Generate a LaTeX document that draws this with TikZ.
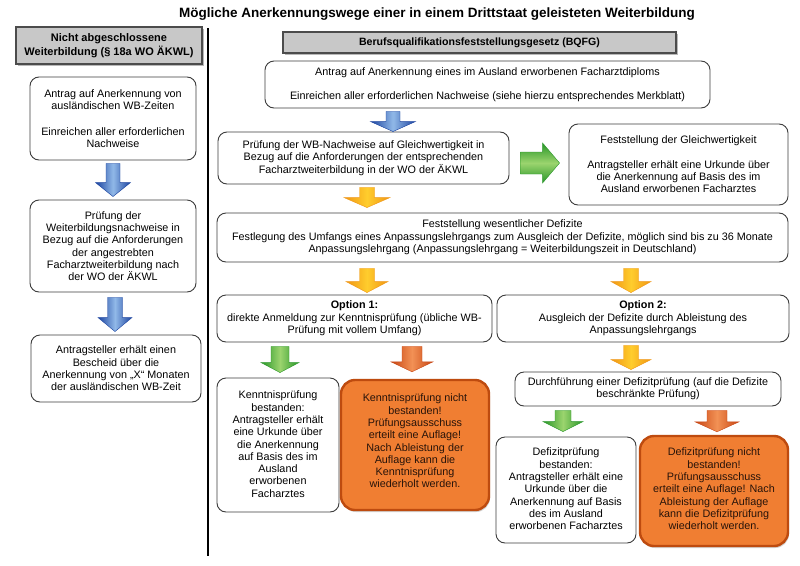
\documentclass[tikz,border=0pt]{standalone}
\usepackage{fontspec}
\setmainfont{Liberation Sans}
\usetikzlibrary{calc,shadows}
\newcommand\bodyfont{\fontsize{10.8}{12.3}\selectfont}
\newcommand\hdfont{\fontsize{11}{13.5}\selectfont\bfseries}
\definecolor{bdark}{RGB}{28,68,160}
\definecolor{blight}{RGB}{145,185,232}
\definecolor{gdark}{RGB}{40,150,40}
\definecolor{glight}{RGB}{155,212,110}
\definecolor{ydark}{RGB}{240,150,20}
\definecolor{ylight}{RGB}{255,205,45}
\definecolor{rdark}{RGB}{200,70,20}
\definecolor{rlight}{RGB}{242,145,85}
\definecolor{ofill}{RGB}{240,126,50}
\definecolor{oline}{RGB}{190,75,15}
\definecolor{otext}{RGB}{40,20,10}
\definecolor{boxline}{RGB}{60,60,60}
\definecolor{hfill}{RGB}{200,200,200}
% style, from, to, x, shaft half, head half, head length, gap top, gap bottom
\newcommand\blockdown[9]{%
  \path[#1] let \p1=(#2.south), \p2=(#3.north) in
    (#4pt-#5pt,\y1-#8pt) -- (#4pt+#5pt,\y1-#8pt) -- (#4pt+#5pt,\y2+#9pt+#7pt)
    -- (#4pt+#6pt,\y2+#9pt+#7pt) -- (#4pt,\y2+#9pt) -- (#4pt-#6pt,\y2+#9pt+#7pt)
    -- (#4pt-#5pt,\y2+#9pt+#7pt) -- cycle;}
% style, from, to, y, shaft half, head half, head length, gap left, gap right
\newcommand\blockright[9]{%
  \path[#1] let \p1=(#2.east), \p2=(#3.west) in
    (\x1+#8pt,-#4pt+#5pt) -- (\x2-#9pt-#7pt,-#4pt+#5pt) -- (\x2-#9pt-#7pt,-#4pt+#6pt)
    -- (\x2-#9pt,-#4pt) -- (\x2-#9pt-#7pt,-#4pt-#6pt) -- (\x2-#9pt-#7pt,-#4pt-#5pt)
    -- (\x1+#8pt,-#4pt-#5pt) -- cycle;}
\begin{document}
\begin{tikzpicture}[x=1pt,y=-1pt,
  wbox/.style={draw=boxline, line width=0.9pt, rounded corners=9pt, fill=white,
    inner sep=0pt, align=center, font=\bodyfont},
  obox/.style={draw=oline, line width=2.4pt, rounded corners=14pt, fill=ofill,
    inner sep=0pt, text=otext, font=\bodyfont,
    drop shadow={shadow xshift=1pt, shadow yshift=-2pt, fill=black!35}},
  hbox/.style={draw=black!70, line width=1.2pt, fill=hfill, inner sep=0pt,
    align=center, font=\hdfont,
    drop shadow={shadow xshift=1.5pt, shadow yshift=-1.5pt, fill=black!55}},
  bluearrow/.style={left color=bdark, right color=bdark, middle color=blight, draw=bdark, line width=0.4pt},
  greenarrow/.style={left color=gdark, right color=gdark, middle color=glight, draw=gdark, line width=0.4pt},
  greenarrowh/.style={top color=gdark, bottom color=gdark, middle color=glight, draw=gdark, line width=0.4pt},
  yelarrow/.style={left color=ydark, right color=ydark, middle color=ylight, draw=ydark, line width=0.4pt},
  redarrow/.style={left color=rdark, right color=rdark, middle color=rlight, draw=rdark, line width=0.4pt}
]
\useasboundingbox[fill=white] (0,0) rectangle (800,565);

\node[font=\fontsize{13.5}{16}\selectfont\bfseries] (title) at (437,14)
  {Mögliche Anerkennungswege einer in einem Drittstaat geleisteten Weiterbildung};

\draw[line width=1.1pt] (208,28) -- (208,556);

% left column
\node[hbox, minimum width=186, minimum height=37] (lh) at (109,45.5)
  {Nicht abgeschlossene\\Weiterbildung (§ 18a WO ÄKWL)};
\node[wbox, minimum width=166, minimum height=83] (L1) at (113,118.5)
  {Antrag auf Anerkennung von\\ausländischen WB-Zeiten\\[13pt]Einreichen aller erforderlichen\\Nachweise};
\node[wbox, minimum width=166, minimum height=92] (L2) at (113,246)
  {Prüfung der\\Weiterbildungsnachweise in\\Bezug auf die Anforderungen\\der angestrebten\\Facharztweiterbildung nach\\der WO der ÄKWL};
\node[wbox, minimum width=170, minimum height=67] (L3) at (116,368.5)
  {Antragsteller erhält einen\\Bescheid über die\\Anerkennung von „X“ Monaten\\der ausländischen WB-Zeit};

% right column
\node[hbox, minimum width=393, minimum height=21, font=\fontsize{10.6}{13}\selectfont\bfseries] (rh) at (479.5,42.5)
  {Berufsqualifikationsfeststellungsgesetz (BQFG)};
\node[wbox, minimum width=445, minimum height=47] (A) at (487.5,84.5)
  {Antrag auf Anerkennung eines im Ausland erworbenen Facharztdiploms\\[11.6pt]Einreichen aller erforderlichen Nachweise (siehe hierzu entsprechendes Merkblatt)};
\node[wbox, minimum width=291, minimum height=52] (B) at (363.5,158)
  {Prüfung der WB-Nachweise auf Gleichwertigkeit in\\Bezug auf die Anforderungen der entsprechenden\\Facharztweiterbildung in der WO der ÄKWL};
\node[wbox, minimum width=219, minimum height=81] (C) at (678.5,164.5)
  {Feststellung der Gleichwertigkeit\\[12.3pt]Antragsteller erhält eine Urkunde über\\die Anerkennung auf Basis des im\\Ausland erworbenen Facharztes};
\node[wbox, minimum width=571, minimum height=49] (D) at (502.5,237.5)
  {Feststellung wesentlicher Defizite\\Festlegung des Umfangs eines Anpassungslehrgangs zum Ausgleich der Defizite, möglich sind bis zu 36 Monate\\Anpassungslehrgang (Anpassungslehrgang = Weiterbildungszeit in Deutschland)};
\node[wbox, minimum width=275, minimum height=47] (E) at (354.5,318.5)
  {\textbf{Option 1:}\\direkte Anmeldung zur Kenntnisprüfung (übliche WB-\\Prüfung mit vollem Umfang)};
\node[wbox, minimum width=292, minimum height=47] (F) at (643,318.5)
  {\textbf{Option 2:}\\Ausgleich der Defizite durch Ableistung des\\Anpassungslehrgangs};
\node[wbox, minimum width=122, minimum height=134] (G) at (278,445)
  {\parbox[c][108pt][t]{118pt}{\centering\bodyfont Kenntnisprüfung\\bestanden:\\Antragsteller erhält\\eine Urkunde über\\die Anerkennung\\auf Basis des im\\Ausland\\erworbenen\\Facharztes}};
\node[obox, minimum width=148, minimum height=130] (H) at (415,445)
  {\parbox[c][102pt][t]{140pt}{\centering\bodyfont Kenntnisprüfung nicht\\bestanden!\\Prüfungsausschuss\\erteilt eine Auflage!\\Nach Ableistung der\\Auflage kann die\\Kenntnisprüfung\\wiederholt werden.}};
\node[wbox, minimum width=266, minimum height=34] (I) at (648,389)
  {Durchführung einer Defizitprüfung (auf die Defizite\\beschränkte Prüfung)};
\node[wbox, minimum width=140, minimum height=106] (J) at (566,490)
  {\parbox[c][84pt][t]{136pt}{\centering\bodyfont Defizitprüfung\\bestanden:\\Antragsteller erhält eine\\Urkunde über die\\Anerkennung auf Basis\\des im Ausland\\erworbenen Facharztes}};
\node[obox, minimum width=148, minimum height=110] (K) at (714,491)
  {\parbox[c][86pt][t]{142pt}{\centering\bodyfont Defizitprüfung nicht\\bestanden!\\Prüfungsausschuss\\erteilt eine Auflage! Nach\\Ableistung der Auflage\\kann die Defizitprüfung\\wiederholt werden.}};

% block arrows
\blockdown{bluearrow}{L1}{L2}{113}{7}{17.5}{14}{3}{3}
\blockdown{bluearrow}{L2}{L3}{115}{7.5}{17}{14}{5}{3}
\blockdown{bluearrow}{A}{B}{393}{7}{22.5}{10}{3}{0}
\blockright{greenarrowh}{B}{C}{163}{11}{20}{17}{11}{9}
\blockdown{yelarrow}{B}{D}{367}{7.5}{23}{10}{3}{5}
\blockdown{yelarrow}{D}{E}{367}{7.5}{21}{11}{6}{2}
\blockdown{yelarrow}{D}{F}{631}{7.5}{20}{11}{6}{2}
\blockdown{greenarrow}{E}{G}{280}{9}{19}{10}{4}{5}
\blockdown{redarrow}{E}{H}{412}{10}{21}{10}{4}{7}
\blockdown{yelarrow}{F}{I}{631}{7.5}{20}{10}{3}{2}
\blockdown{greenarrow}{I}{J}{563}{8}{20}{10}{4}{5}
\blockdown{redarrow}{I}{K}{717}{10}{22}{10}{4}{3}
\end{tikzpicture}
\end{document}
